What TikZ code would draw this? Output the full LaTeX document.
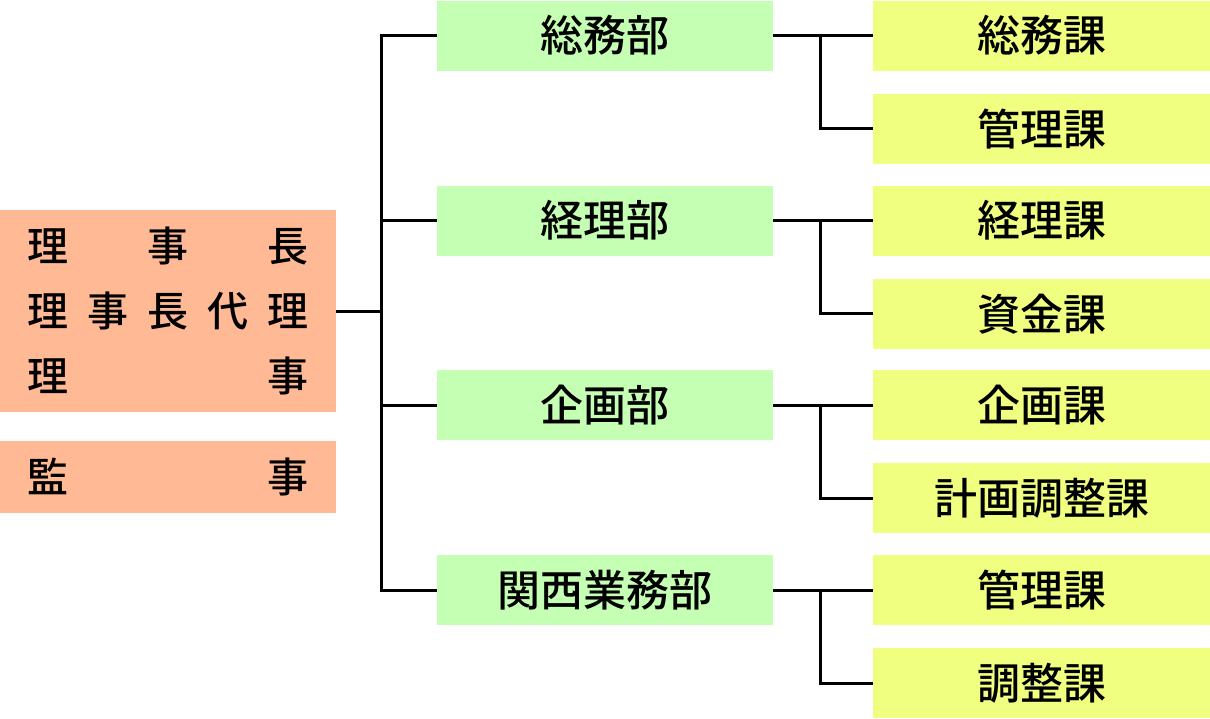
\documentclass[tikz,border=0pt]{standalone}
\usepackage{fontspec}
\usepackage{xcolor}
\usepackage{tikz}
\usetikzlibrary{positioning}
\newfontfamily\jpfont{Noto Sans CJK JP Medium}
\definecolor{yakuin}{HTML}{FFB994}
\definecolor{bucolor}{HTML}{C4FFB4}
\definecolor{kacolor}{HTML}{F0FF80}
\tikzset{
    yakuinbox/.style={rectangle, fill=yakuin, minimum width=336pt, inner sep=0pt, text width=281pt, align=left, font=\jpfont\fontsize{41}{65}\selectfont},
    bubox/.style={rectangle, fill=bucolor, minimum width=336pt, minimum height=70pt, inner sep=0pt, font=\jpfont\fontsize{43}{48}\selectfont},
    kabox/.style={rectangle, fill=kacolor, minimum width=337pt, minimum height=70pt, inner sep=0pt, font=\jpfont\fontsize{43}{48}\selectfont},
    conn/.style={line width=3pt, color=black}
}
\begin{document}
\begin{tikzpicture}[x=1pt, y=-1pt]
    \useasboundingbox (0,0) rectangle (1210,718);
    % yakuin
    \node [yakuinbox, minimum height=202pt] (rijicho) at (168,311) {%
        \makebox[281pt]{理\hfill 事\hfill 長}\\
        \makebox[281pt]{理\hfill 事\hfill 長\hfill 代\hfill 理}\\
        \makebox[281pt]{理\hfill 事}};
    \node [yakuinbox, minimum height=72pt] (kanji) at (168,477) {\makebox[281pt]{監\hfill 事}};

    % bu
    \node [bubox] (somu) at (605,35.5) {総務部};
    \node [bubox] (keiri) at (605,220.5) {経理部};
    \node [bubox] (kikaku) at (605,405) {企画部};
    \node [bubox] (kansai) at (605,590) {関西業務部};

    % ka
    \node [kabox] (somuka) at (1041.5,35.5) {総務課};
    \node [kabox, below=23pt of somuka] (kanrika) {管理課};
    \node [kabox] (keirika) at (1041.5,220.5) {経理課};
    \node [kabox, below=23pt of keirika] (shikinka) {資金課};
    \node [kabox] (kikakuka) at (1041.5,405) {企画課};
    \node [kabox, below=23pt of kikakuka] (keikakuka) {計画調整課};
    \node [kabox] (kanrika2) at (1041.5,590) {管理課};
    \node [kabox, below=23pt of kanrika2] (choseika) {調整課};

    % connectors
    \draw [conn] (rijicho.east) -- ++(46,0);
    \draw [conn] (somu.west) -- ++(-55,0) |- (kansai.west);
    \draw [conn] (keiri.west) -- ++(-55,0);
    \draw [conn] (kikaku.west) -- ++(-55,0);
    \foreach \bu/\kaA/\kaB in {somu/somuka/kanrika, keiri/keirika/shikinka, kikaku/kikakuka/keikakuka, kansai/kanrika2/choseika}
        \draw [conn] (\bu.east) -- (\kaA.west) (\bu.east) ++(47,0) |- (\kaB.west);
\end{tikzpicture}
\end{document}
